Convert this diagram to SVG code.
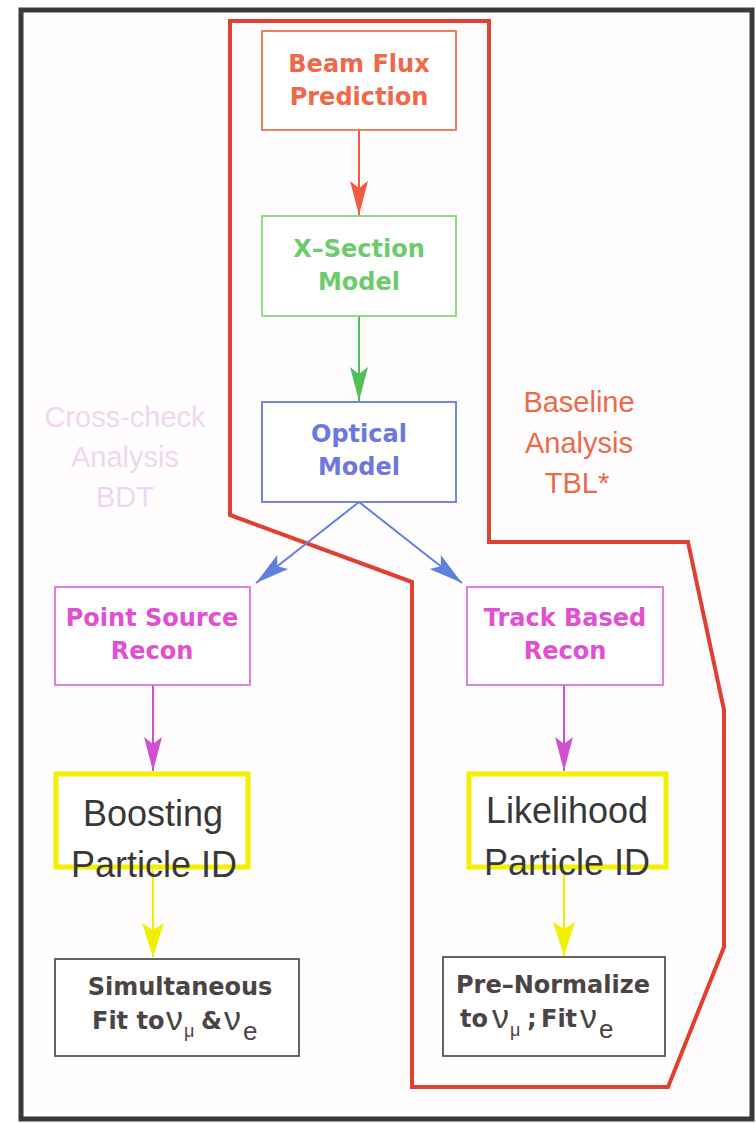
<svg xmlns="http://www.w3.org/2000/svg" width="756" height="1123" viewBox="0 0 756 1123">
<defs>
<style>
.box{fill:#fff;stroke-width:1.8}
.lbl{font-family:"DejaVu Sans",sans-serif;font-weight:bold;font-size:24px;text-anchor:middle}
.big{font-family:"Liberation Sans",Arial,sans-serif;font-size:36px;fill:#383838;text-anchor:middle}
.side{font-family:"Liberation Sans",Arial,sans-serif;font-size:29px;text-anchor:middle}
.nu{font-family:"Liberation Sans",Arial,sans-serif;font-weight:normal;font-size:34px}
.sub{font-family:"Liberation Sans",Arial,sans-serif;font-weight:normal}
.conn{fill:none;stroke-width:2}
</style>
<marker id="hRed" markerUnits="userSpaceOnUse" viewBox="-36 -10 36 20" markerWidth="36" markerHeight="20" refX="0" refY="0" orient="auto"><path d="M0,0 L-34,-9 L-27,0 L-34,9 Z" fill="#f05a40"/></marker>
<marker id="hGreen" markerUnits="userSpaceOnUse" viewBox="-36 -10 36 20" markerWidth="36" markerHeight="20" refX="0" refY="0" orient="auto"><path d="M0,0 L-34,-9 L-27,0 L-34,9 Z" fill="#50c058"/></marker>
<marker id="hBlue" markerUnits="userSpaceOnUse" viewBox="-36 -10 36 20" markerWidth="36" markerHeight="20" refX="0" refY="0" orient="auto"><path d="M0,0 L-34,-9 L-27,0 L-34,9 Z" fill="#6080e0"/></marker>
<marker id="hMag" markerUnits="userSpaceOnUse" viewBox="-36 -10 36 20" markerWidth="36" markerHeight="20" refX="0" refY="0" orient="auto"><path d="M0,0 L-34,-9 L-27,0 L-34,9 Z" fill="#d050d0"/></marker>
<marker id="hYel" markerUnits="userSpaceOnUse" viewBox="-36 -13 36 26" markerWidth="36" markerHeight="26" refX="0" refY="0" orient="auto"><path d="M0,0 L-34,-11 L-27,0 L-34,11 Z" fill="#f0f000"/></marker>
</defs>
<rect x="0" y="0" width="756" height="1123" fill="#fff"/>
<rect id="frame" x="21" y="10" width="731" height="1109" fill="#fffdfd" stroke="#3a3a3a" stroke-width="5"/>

<g id="baseline-region">
<polygon points="230,21 489,21 489,542 688,542 724,710 724,947 668,1087 412,1087 412,582 230,515" fill="none" stroke="#e04030" stroke-width="4" stroke-linejoin="miter"/>
</g>

<g id="label-crosscheck">
<text class="side" x="125" y="427" fill="#f0d6f0">Cross-check</text>
<text class="side" x="125" y="467" fill="#f0d6f0">Analysis</text>
<text class="side" x="125" y="507" fill="#f0d6f0">BDT</text>
</g>
<g id="label-baseline">
<text class="side" x="579" y="412" fill="#ec6a4a">Baseline</text>
<text class="side" x="579" y="453" fill="#ec6a4a">Analysis</text>
<text class="side" x="577" y="493" fill="#ec6a4a">TBL*</text>
</g>

<g id="connectors">
<line class="conn" x1="359" y1="130" x2="359" y2="215" stroke="#f05a40" marker-end="url(#hRed)"/>
<line class="conn" x1="359" y1="316" x2="359" y2="401" stroke="#50c058" marker-end="url(#hGreen)"/>
<line class="conn" x1="359" y1="502" x2="256" y2="583" stroke="#6080e0" stroke-width="2.5" marker-end="url(#hBlue)"/>
<line class="conn" x1="359" y1="502" x2="462" y2="583" stroke="#6080e0" stroke-width="2.5" marker-end="url(#hBlue)"/>
<line class="conn" x1="153" y1="685" x2="153" y2="771" stroke="#d050d0" marker-end="url(#hMag)"/>
<line class="conn" x1="564" y1="685" x2="564" y2="771" stroke="#d050d0" marker-end="url(#hMag)"/>
<line class="conn" x1="153" y1="870" x2="153" y2="957" stroke="#f0f000" stroke-width="2.5" marker-end="url(#hYel)"/>
<line class="conn" x1="564" y1="870" x2="564" y2="956" stroke="#f0f000" stroke-width="2.5" marker-end="url(#hYel)"/>
</g>

<g id="beam-flux">
<rect class="box" x="262" y="31" width="194" height="99" stroke="#f07050"/>
<text class="lbl" x="359" y="72" fill="#f06848">Beam Flux</text>
<text class="lbl" x="359" y="105" fill="#f06848">Prediction</text>
</g>
<g id="x-section">
<rect class="box" x="262" y="216" width="194" height="100" stroke="#88d878"/>
<text class="lbl" x="359" y="257" fill="#6ccc6c">X–Section</text>
<text class="lbl" x="359" y="290" fill="#6ccc6c">Model</text>
</g>
<g id="optical">
<rect class="box" x="262" y="402" width="194" height="100" stroke="#6a78dc"/>
<text class="lbl" x="359" y="442" fill="#6a78e0">Optical</text>
<text class="lbl" x="359" y="475" fill="#6a78e0">Model</text>
</g>
<g id="point-source">
<rect class="box" x="55" y="587" width="195" height="98" stroke="#e070e0"/>
<text class="lbl" x="152" y="626" fill="#e050d0">Point Source</text>
<text class="lbl" x="152" y="659" fill="#e050d0">Recon</text>
</g>
<g id="track-based">
<rect class="box" x="467" y="587" width="196" height="98" stroke="#e070e0"/>
<text class="lbl" x="565" y="626" fill="#e050d0">Track Based</text>
<text class="lbl" x="565" y="659" fill="#e050d0">Recon</text>
</g>
<g id="boosting">
<rect x="56" y="774" width="192" height="93" fill="#fff" stroke="#f4f000" stroke-width="5"/>
<text class="big" x="153" y="826">Boosting</text>
<text class="big" x="154" y="877">Particle ID</text>
</g>
<g id="likelihood">
<rect x="469" y="774" width="197" height="93" fill="#fff" stroke="#f4f000" stroke-width="5"/>
<text class="big" x="567" y="823">Likelihood</text>
<text class="big" x="567" y="875">Particle ID</text>
</g>
<g id="simultaneous">
<rect class="box" x="55" y="959" width="244" height="97" stroke="#555" stroke-width="2"/>
<text class="lbl" x="180" y="995" fill="#4a4444">Simultaneous</text>
<text class="lbl" x="92" y="1029" fill="#4a4444" style="text-anchor:start">Fit to<tspan class="nu" x="166" y="1030">ν</tspan><tspan class="sub" x="184" y="1037" font-size="18">μ</tspan><tspan x="201" y="1029">&amp;</tspan><tspan class="nu" x="224" y="1030">ν</tspan><tspan class="sub" x="243" y="1040" font-size="26">e</tspan></text>
</g>
<g id="pre-normalize">
<rect class="box" x="443" y="957" width="222" height="99" stroke="#555" stroke-width="2"/>
<text class="lbl" x="553" y="993" fill="#4a4444">Pre–Normalize</text>
<text class="lbl" x="460" y="1027" fill="#4a4444" style="text-anchor:start">to<tspan class="nu" x="492" y="1028">ν</tspan><tspan class="sub" x="510" y="1036" font-size="18">μ</tspan><tspan x="527" y="1027">;</tspan><tspan x="541" y="1027">Fit</tspan><tspan class="nu" x="580" y="1028">ν</tspan><tspan class="sub" x="599" y="1038" font-size="26">e</tspan></text>
</g>
</svg>
